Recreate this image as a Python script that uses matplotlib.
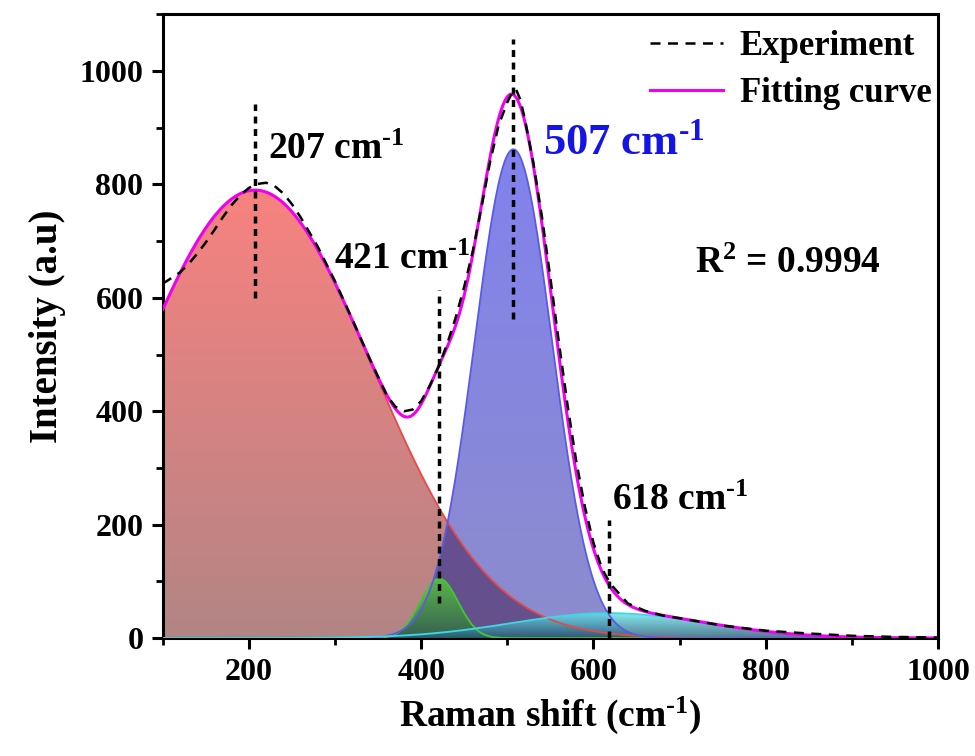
import numpy as np
import matplotlib.pyplot as plt
from matplotlib.ticker import MultipleLocator

plt.rcParams['font.family'] = ['Liberation Serif', 'DejaVu Serif']
plt.rcParams['font.weight'] = 'bold'
plt.rcParams['mathtext.fontset'] = 'custom'
plt.rcParams['mathtext.rm'] = 'Liberation Serif:bold'
plt.rcParams['mathtext.bf'] = 'Liberation Serif:bold'
plt.rcParams['mathtext.it'] = 'Liberation Serif:bold'

exp_x = [100, 110, 120, 130, 140, 150, 160, 170, 180, 190, 200, 210, 220, 230, 240,
         250, 260, 280, 300, 320, 340, 360, 370, 380, 390, 400, 410, 420, 430, 440,
         450, 460, 470, 480, 490, 500, 505, 510, 515, 520, 530, 540, 550, 560, 570,
         580, 590, 600, 610, 620, 640, 660, 680, 700, 750, 800, 850, 900, 950, 1000]
exp_y = [625, 635, 645, 660, 678, 698, 720, 743, 764, 781, 794, 801, 803, 797, 784,
         765, 742, 690, 629, 562, 493, 428, 408, 400, 403, 418, 445, 478, 518, 565,
         620, 683, 760, 840, 905, 945, 960, 968, 950, 918, 840, 745, 635, 520, 410,
         312, 232, 168, 122, 95, 61, 48, 40, 35, 22, 13, 8, 4, 2, 1]

# fitted gaussian components: centre, height, sigma
peak_names = ['207', '421', '507', '618']
peak_center = [207, 421, 507, 618]
peak_height = [790, 105, 862, 44]
peak_sigma = [136, 22, 45, 112]

# dashed marker lines at the peak positions
marker_x = [207, 421, 507, 618]
marker_lo = [599, 62, 563, 0]
marker_hi = [942, 614, 1056, 208]

fill_top = [(0.97, 0.51, 0.50), (0.35, 0.85, 0.20), (0.40, 0.40, 0.92), (0.40, 0.90, 0.93)]
fill_bot = [(0.70, 0.52, 0.52), (0.15, 0.40, 0.25), (0.45, 0.45, 0.76), (0.15, 0.35, 0.45)]
edge_col = ['#E84848', '#40C830', '#5A5AE6', '#3CD8E6']
fill_alpha = [1.0, 0.75, 0.82, 0.8]

SUP = '$^{\u2010' + '1}$'


def gaussian(x, c, h, s):
    return h * np.exp(-(x - c) ** 2 / (2 * s ** 2))


def gradient_fill(ax, x, y, top, bot, alpha, z):
    poly = ax.fill_between(x, 0, y, facecolor='none', edgecolor='none', zorder=z)
    t = np.linspace(0, 1, 256)[:, None, None]
    cols = np.array(bot)[None, None, :] + (np.array(top) - np.array(bot))[None, None, :] * t
    im = ax.imshow(cols, extent=[x.min(), x.max(), 0, y.max()], origin='lower',
                   aspect='auto', alpha=alpha, zorder=z, interpolation='bilinear')
    im.set_clip_path(poly.get_paths()[0], transform=ax.transData)


fig, ax = plt.subplots(figsize=(9.75, 7.56), dpi=100)
fig.subplots_adjust(left=0.167, right=0.962, bottom=0.156, top=0.981)

x = np.linspace(100, 1000, 901)
comps = [gaussian(x, c, h, s) for c, h, s in zip(peak_center, peak_height, peak_sigma)]
fit = np.sum(comps, axis=0)

# draw order: red, blue, dark overlap, green, cyan
order = [0, 2, 1, 3]
for k, i in enumerate(order):
    gradient_fill(ax, x, comps[i], fill_top[i], fill_bot[i], fill_alpha[i], 1 + k)
    if i == 2:
        ax.fill_between(x, 0, np.minimum(comps[0], comps[2]), color=(0.25, 0.1, 0.3),
                        alpha=0.4, lw=0, zorder=2.5)
for i in range(4):
    ax.plot(x, comps[i], color=edge_col[i], lw=1.3, zorder=6)

ax.plot(exp_x, exp_y, color='black', lw=1.8, dashes=(4, 3), zorder=8, label='Experiment')
ax.plot(x, fit, color='#F000F0', lw=2.2, zorder=7, label='Fitting curve')

ax.vlines(marker_x, marker_lo, marker_hi, colors='black', lw=2.5,
          linestyles=(0, (2, 1.6)), zorder=9)

ax.text(222, 845, '207 cm' + SUP, fontsize=27, fontweight='bold', zorder=10)
ax.text(299, 651, '421 cm' + SUP, fontsize=27, fontweight='bold', zorder=10)
ax.text(542, 854, '507 cm' + SUP, fontsize=32, fontweight='bold', color='#1414E6', zorder=10)
ax.text(622, 225, '618 cm' + SUP, fontsize=27, fontweight='bold', zorder=10)
ax.text(718, 644, 'R$^{2}$ = 0.9994', fontsize=27, fontweight='bold', zorder=10)

ax.set_xlim(100, 1000)
ax.set_ylim(0, 1100)
ax.xaxis.set_major_locator(MultipleLocator(200))
ax.xaxis.set_minor_locator(MultipleLocator(100))
ax.yaxis.set_major_locator(MultipleLocator(200))
ax.yaxis.set_minor_locator(MultipleLocator(100))
ax.tick_params(which='major', direction='out', length=8, width=2.2, labelsize=23, pad=6)
ax.tick_params(which='minor', direction='out', length=5, width=2.0)
for lab in ax.get_xticklabels() + ax.get_yticklabels():
    lab.set_fontweight('bold')
for sp in ax.spines.values():
    sp.set_linewidth(2.2)

ax.set_xlabel('Raman shift (cm' + SUP + ')', fontsize=27, fontweight='bold', labelpad=6)
ax.set_ylabel('Intensity (a.u)', fontsize=28, fontweight='bold', labelpad=10)

ax.legend(loc='upper right', bbox_to_anchor=(1.012, 1.0), frameon=False, handlelength=2.1,
          handletextpad=0.5, borderaxespad=0.0, borderpad=0.45, labelspacing=0.4,
          prop={'weight': 'bold', 'size': 25})

fig.savefig('out.png', dpi=100)
